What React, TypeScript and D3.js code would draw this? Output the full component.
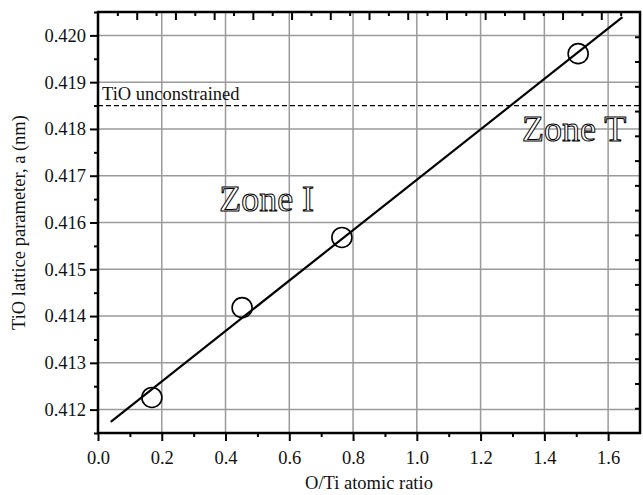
import React, { useEffect, useRef } from 'react'
import * as d3 from 'd3'

// measured points
const ratio = [0.169, 0.452, 0.765, 1.506]
const latticeA = [0.41226, 0.41418, 0.41568, 0.41961]
// linear fit end points
const fitRatio = [0.04, 1.645]
const fitA = [0.41174, 0.42039]
const unconstrained = 0.4185
const xTicks = [0, 0.2, 0.4, 0.6, 0.8, 1.0, 1.2, 1.4, 1.6]
const yTicks = [0.412, 0.413, 0.414, 0.415, 0.416, 0.417, 0.418, 0.419, 0.42]
const zones = [
  { label: 'Zone I', x: 0.38, y: 0.41625 },
  { label: 'Zone T', x: 1.33, y: 0.41775 },
]

const font = 'Liberation Serif, Times New Roman, serif'

export default function App() {
  const ref = useRef<SVGSVGElement>(null)

  useEffect(() => {
    const svg = d3.select(ref.current)
    svg.selectAll('*').remove()
    const L = 98, R = 640, T = 12, B = 433

    const x = d3.scaleLinear().domain([0, 1.7]).range([L, R])
    const y = d3.scaleLinear().domain([0.4115, 0.4205]).range([B, T])
    // mirrored axes on top / right use their own spacing
    const xTop = d3.scaleLinear().domain([0, 14]).range([L, R])
    const yRight = d3.scaleLinear().domain([0, 17]).range([B, T])

    const g = svg.append('g')

    // grid
    g.selectAll('.gx').data(xTicks.filter(d => d > 0)).enter().append('line')
      .attr('x1', d => x(d)).attr('x2', d => x(d)).attr('y1', T).attr('y2', B)
      .attr('stroke', '#9a9a9a').attr('stroke-width', 1.5)
    g.selectAll('.gy').data(yTicks).enter().append('line')
      .attr('y1', d => y(d)).attr('y2', d => y(d)).attr('x1', L).attr('x2', R)
      .attr('stroke', '#9a9a9a').attr('stroke-width', 1.5)

    // bottom axis
    const xb = d3.axisBottom(x).tickValues(xTicks).tickSize(8).tickPadding(10)
      .tickFormat(d => d3.format('.1f')(d as number))
    const xbMinor = d3.axisBottom(x).tickValues(d3.range(0.1, 1.7, 0.2)).tickSize(4).tickFormat(() => '')
    g.append('g').attr('transform', `translate(0,${B})`).call(xbMinor)
    g.append('g').attr('transform', `translate(0,${B})`).call(xb)

    // left axis
    const yl = d3.axisLeft(y).tickValues(yTicks).tickSize(8).tickPadding(4)
      .tickFormat(d => d3.format('.3f')(d as number))
    const ylMinor = d3.axisLeft(y).tickValues(d3.range(0.4115, 0.4205, 0.001)).tickSize(4).tickFormat(() => '')
    g.append('g').attr('transform', `translate(${L},0)`).call(ylMinor)
    g.append('g').attr('transform', `translate(${L},0)`).call(yl)

    // top axis, ticks pointing inward
    g.append('g').attr('transform', `translate(0,${T})`)
      .call(d3.axisBottom(xTop).tickValues(d3.range(1, 14, 1)).tickSize(8).tickFormat(() => ''))
    g.append('g').attr('transform', `translate(0,${T})`)
      .call(d3.axisBottom(xTop).tickValues(d3.range(0.5, 14, 1)).tickSize(4).tickFormat(() => ''))
    // right axis, ticks pointing inward
    g.append('g').attr('transform', `translate(${R},0)`)
      .call(d3.axisLeft(yRight).tickValues(d3.range(1, 17, 1)).tickSize(5).tickFormat(() => ''))

    g.selectAll('.domain').remove()
    g.selectAll('.tick line').attr('stroke', '#000').attr('stroke-width', 2)
    g.selectAll('.tick text').style('font-family', font).style('font-size', '18.5px').attr('fill', '#111')

    // frame
    g.append('rect').attr('x', L).attr('y', T).attr('width', R - L).attr('height', B - T)
      .attr('fill', 'none').attr('stroke', '#000').attr('stroke-width', 2.5)

    // unconstrained reference
    g.append('line').attr('x1', L).attr('x2', R)
      .attr('y1', y(unconstrained)).attr('y2', y(unconstrained))
      .attr('stroke', '#000').attr('stroke-width', 1.2).attr('stroke-dasharray', '5,3')
    g.append('text').attr('x', L + 4).attr('y', y(unconstrained) - 6)
      .style('font-family', font).style('font-size', '18.5px').attr('fill', '#111')
      .text('TiO unconstrained')

    // zone labels (outlined)
    g.selectAll('.zone').data(zones).enter().append('text')
      .attr('x', d => x(d.x)).attr('y', d => y(d.y))
      .style('font-family', font).style('font-size', '36px')
      .attr('fill', '#fff').attr('stroke', '#000').attr('stroke-width', 1)
      .text(d => d.label)

    // fit line
    const line = d3.line<number>().x(d => x(fitRatio[d])).y(d => y(fitA[d]))
    g.append('path').attr('d', line([0, 1]))
      .attr('stroke', '#000').attr('stroke-width', 2.2).attr('fill', 'none')

    // points
    g.selectAll('.pt').data(ratio).enter().append('circle')
      .attr('cx', d => x(d)).attr('cy', (d, i) => y(latticeA[i])).attr('r', 10)
      .attr('fill', 'none').attr('stroke', '#000').attr('stroke-width', 1.6)

    // axis titles
    svg.append('text').attr('x', (L + R) / 2).attr('y', 489).attr('text-anchor', 'middle')
      .style('font-family', font).style('font-size', '18.5px').attr('fill', '#111')
      .text('O/Ti atomic ratio')
    svg.append('text').attr('transform', `translate(25,${(T + B) / 2}) rotate(-90)`)
      .attr('text-anchor', 'middle')
      .style('font-family', font).style('font-size', '18.5px').attr('fill', '#111')
      .text('TiO lattice parameter, a (nm)')
  }, [])

  return (
    <div style={{ position: 'absolute', left: 0, top: 0 }}>
      <svg ref={ref} width={643} height={495} style={{ display: 'block', background: '#fff' }} />
    </div>
  )
}
